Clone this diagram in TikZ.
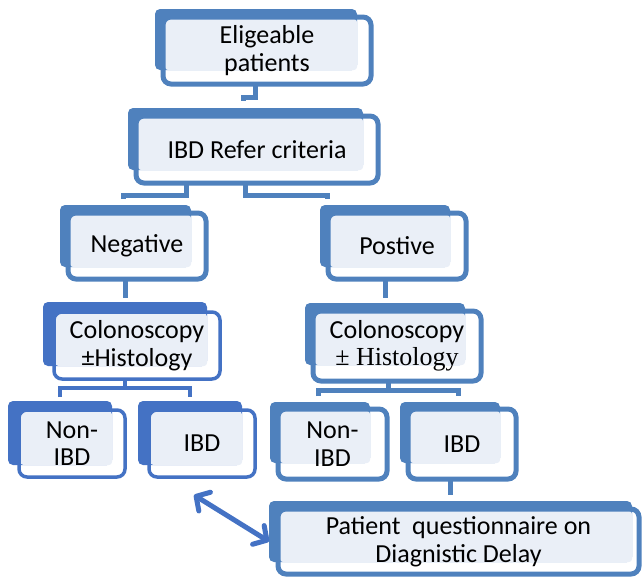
\documentclass[tikz,border=0pt]{standalone}
\usepackage{fontspec}
\setmainfont{Carlito}
\newfontfamily\serifface{Liberation Serif}
\usetikzlibrary{arrows.meta}

\definecolor{mainblue}{HTML}{4F81BD}
\definecolor{leftblue}{HTML}{4472C4}
\definecolor{paleblue}{HTML}{EAEFF7}

\begin{document}
\begin{tikzpicture}[x=1pt, y=-1pt, every node/.style={font=\fontsize{26}{27.5}\selectfont},
	>={Straight Barb[length=10pt, width=22pt, round]},
	backbox/.style={fill=mainblue, rounded corners=5pt, inner sep=0pt, outer sep=0pt},
	frontbox/.style={draw=mainblue, line width=5pt, rounded corners=8pt, align=center, inner sep=0pt, outer sep=0pt},
	backL/.style={backbox, fill=leftblue},
	frontL/.style={frontbox, draw=leftblue, line width=3.5pt},
	inner/.style={fill=paleblue, rounded corners=3pt},
	link/.style={draw=mainblue, line width=5pt},
	linkL/.style={draw=leftblue, line width=3.5pt}]
	\useasboundingbox (0,0) rectangle (643,579);
	% top of the tree
	\node[backbox, minimum width=202pt, minimum height=61pt] (eligb) at (256,39.5) {};
	\fill[inner] (163+2,17+2) rectangle (eligb.south east);
	\node[frontbox, minimum width=208pt, minimum height=67pt] (elig) at (267,50.5) {Eligeable\\patients};
	\node[backbox, minimum width=235pt, minimum height=62pt] (referb) at (245.5,139) {};
	\fill[inner] (136+2,116+2) rectangle (referb.south east);
	\node[frontbox, minimum width=242pt, minimum height=67pt] (refer) at (257,149.5) {IBD Refer criteria};
	% first split
	\node[backbox, minimum width=131pt, minimum height=62pt] (negb) at (125.5,236) {};
	\fill[inner] (68+2,213+2) rectangle (negb.south east);
	\node[frontbox, minimum width=138pt, minimum height=66pt] (neg) at (137,246) {Negative};
	\node[backbox, minimum width=130pt, minimum height=62pt] (posb) at (385,236) {};
	\fill[inner] (328+2,213+2) rectangle (posb.south east);
	\node[frontbox, minimum width=138pt, minimum height=66pt] (pos) at (397,246) {Postive};
	% colonoscopy
	\node[backL, minimum width=164pt, minimum height=64pt] (colLb) at (125,334) {};
	\fill[inner] (54+1.5,312+1.5) rectangle (colLb.south east);
	\node[frontL, minimum width=166pt, minimum height=67pt] (colL) at (137,345.5) {Colonoscopy\\±Histology};
	\node[backbox, minimum width=160pt, minimum height=62pt] (colRb) at (385,334) {};
	\fill[inner] (313+2,311+2) rectangle (colRb.south east);
	\node[frontbox, minimum width=168pt, minimum height=70pt] (colR) at (397,346) {Colonoscopy\\{\serifface ± Histology}};
	% outcomes
	\node[backL, minimum width=104pt, minimum height=64pt] (nonLb) at (60,433) {};
	\fill[inner] (19+1.5,410+1.5) rectangle (nonLb.south east);
	\node[frontL, minimum width=106pt, minimum height=67pt] (nonL) at (72,443.5) {Non-\\IBD};
	\node[backL, minimum width=104pt, minimum height=64pt] (ibdLb) at (190,433) {};
	\fill[inner] (149+1.5,410+1.5) rectangle (ibdLb.south east);
	\node[frontL, minimum width=106pt, minimum height=67pt] (ibdL) at (202,443.5) {IBD};
	\node[backbox, minimum width=100pt, minimum height=61pt] (nonRb) at (320,432.5) {};
	\fill[inner] (278+2,409+2) rectangle (nonRb.south east);
	\node[frontbox, minimum width=109pt, minimum height=70pt] (nonR) at (332.5,444) {Non-\\IBD};
	\node[backbox, minimum width=100pt, minimum height=61pt] (ibdRb) at (450,432.5) {};
	\fill[inner] (408+2,409+2) rectangle (ibdRb.south east);
	\node[frontbox, minimum width=108pt, minimum height=70pt] (ibdR) at (462,444) {IBD};
	\node[backbox, minimum width=363pt, minimum height=61pt] (patb) at (450.5,531.5) {};
	\fill[inner] (278+2,509+2) rectangle (patb.south east);
	\node[frontbox, minimum width=361pt, minimum height=65pt] (pat) at (458.5,541.5) {Patient\ \ questionnaire on\\Diagnistic Delay};
	% connectors
	\draw[link] ([xshift=-12pt]elig.south) -- ++(0,13) -| ([xshift=-2.5pt,yshift=7pt]referb.north);
	\draw[link] ([xshift=-71pt]refer.south) -- ++(0,12) -| ([xshift=-2.5pt,yshift=6pt]negb.north);
	\draw[link] ([xshift=-12pt]refer.south) -- ++(0,12) -| ([xshift=-58pt,yshift=6pt]posb.north);
	\draw[link] (neg.south -| colLb.north) -- ([yshift=4pt]colLb.north);
	\draw[link] (pos.south -| colRb.north) -- ([yshift=5pt]colRb.north);
	\draw[linkL] (colL.south -| colLb.north) -- ++(0,9) coordinate (jL);
	\draw[linkL] ([yshift=4pt]nonLb.north) |- (jL) -| ([yshift=4pt]ibdLb.north);
	\draw[link] ([xshift=-9pt]colR.south) -- ++(0,9) coordinate (jR);
	\draw[link] ([xshift=-2pt,yshift=6pt]nonRb.north) |- (jR) -| ([xshift=8pt,yshift=6pt]ibdRb.north);
	\draw[link] (ibdR.south -| patb.north) -- ([yshift=6pt]patb.north);
	\draw[<->, leftblue, line width=5pt] ([xshift=-8pt,yshift=-18pt]ibdL.south) -- ([yshift=-10pt]patb.west);
\end{tikzpicture}
\end{document}
